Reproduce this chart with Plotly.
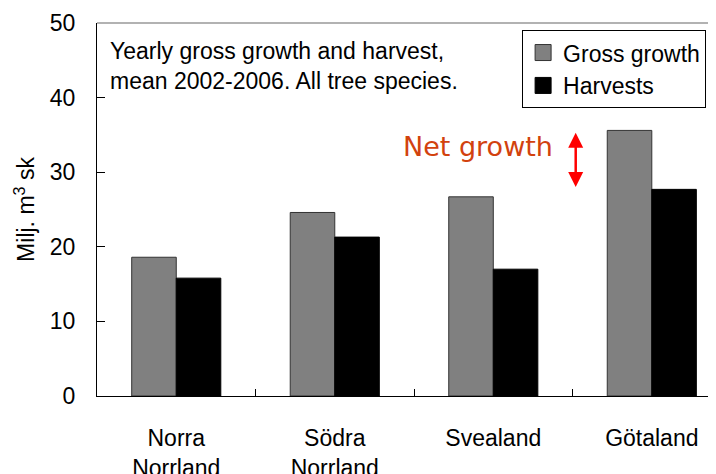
import plotly.graph_objects as go

regions = ['Norra<br>Norrland', 'Södra<br>Norrland', 'Svealand', 'Götaland']
gross_growth = [18.6, 24.6, 26.7, 35.6]
harvests = [15.8, 21.3, 17.0, 27.7]

FONT = 'Liberation Sans, Arial, sans-serif'
GRAY = '#808080'

fig = go.Figure()

fig.add_trace(go.Bar(
    x=regions, y=gross_growth, name='Gross growth',
    marker=dict(color=GRAY, line=dict(color='#333333', width=1)),
    showlegend=False
))
fig.add_trace(go.Bar(
    x=regions, y=harvests, name='Harvests',
    marker=dict(color='black', line=dict(color='black', width=1)),
    showlegend=False
))

# legend entries with bigger square swatches
fig.add_trace(go.Scatter(
    x=[None], y=[None], mode='markers', name='Gross growth',
    marker=dict(symbol='square', size=18, color=GRAY, line=dict(color='#333333', width=1))
))
fig.add_trace(go.Scatter(
    x=[None], y=[None], mode='markers', name='Harvests',
    marker=dict(symbol='square', size=18, color='black', line=dict(color='black', width=1))
))

# net growth arrow, spanning Götaland gross growth down to harvests
fig.add_annotation(
    x=2.52, y=harvests[3] + 0.3, ax=2.52, ay=gross_growth[3] - 0.1,
    xref='x', yref='y', axref='x', ayref='y',
    showarrow=True, arrowside='end+start', arrowhead=2, arrowsize=1.2,
    arrowwidth=2.5, arrowcolor='#ff0000', standoff=0, startstandoff=0, text=''
)
fig.add_annotation(
    x=2.39, y=33.4, xref='x', yref='y', xanchor='right', yanchor='middle',
    text='Net growth', showarrow=False,
    font=dict(family='DejaVu Sans, Verdana, sans-serif', size=27, color='#d2420e')
)
fig.add_annotation(
    x=0.018, y=0.965, xref='paper', yref='paper', xanchor='left', yanchor='top',
    align='left', showarrow=False,
    text='Yearly gross growth and harvest,<br>mean 2002-2006. All tree species.',
    font=dict(family=FONT, size=23, color='black')
)

# gray top border of the plot area
fig.add_shape(type='line', xref='paper', yref='paper', x0=0, x1=1, y0=1, y1=1,
              line=dict(color='#999999', width=1.5))

# the page adds an 8px body margin, so the figure is 8px smaller and shifted
fig.update_layout(
    width=708, height=466,
    margin=dict(l=89, r=0, t=15, b=78),
    plot_bgcolor='white', paper_bgcolor='white',
    barmode='group', bargap=0.438, bargroupgap=0,
    font=dict(family=FONT, size=23, color='black'),
    legend=dict(
        x=0.984, y=0.981, xanchor='right', yanchor='top',
        bordercolor='black', borderwidth=1, bgcolor='white',
        font=dict(family=FONT, size=23), tracegroupgap=0, itemwidth=30
    ),
    xaxis=dict(
        range=[-0.5, 3.405], showline=True, linecolor='black', linewidth=1,
        ticks='inside', ticklen=7, tickcolor='black', tickson='boundaries',
        ticklabelstandoff=21, showgrid=False, zeroline=False, automargin=False,
        tickfont=dict(family=FONT, size=23)
    ),
    yaxis=dict(
        range=[0, 50], dtick=10, showline=True, linecolor='black', linewidth=1,
        ticks='inside', ticklen=8, tickcolor='black', showgrid=False, zeroline=False,
        ticklabelstandoff=16, tickfont=dict(family=FONT, size=23), automargin=False,
        title=dict(text='Milj. m<sup>3</sup> sk', font=dict(family=FONT, size=23), standoff=8)
    ),
)

fig.write_html('out.html')
